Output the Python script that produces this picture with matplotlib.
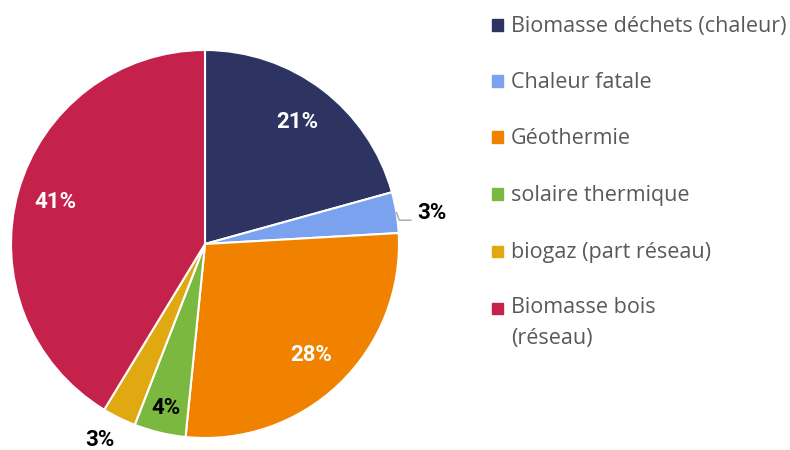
import numpy as np
import matplotlib.pyplot as plt
from matplotlib.patches import Rectangle

plt.rcParams["font.family"] = ["Open Sans", "DejaVu Sans"]

labels = [
    "Biomasse déchets (chaleur)",
    "Chaleur fatale",
    "Géothermie",
    "solaire thermique",
    "biogaz (part réseau)",
    "Biomasse bois\n(réseau)",
]
shares = [20.7, 3.4, 27.5, 4.3, 2.8, 41.3]
pct_text = ["21%", "3%", "28%", "4%", "3%", "41%"]
colors = ["#2e3461", "#7aa2ee", "#f08200", "#7bb83f", "#e0a811", "#c4214b"]

# label placement: radial distance, angular nudge (deg) and text colour per slice
label_r = [0.79, 1.18, 0.79, 0.87, 1.145, 0.80]
label_da = [0, -1.6, 0, 0, -2.0, 0]
label_c = ["white", "black", "white", "black", "black", "white"]

W, H = 790, 450
fig = plt.figure(figsize=(W / 100, H / 100), dpi=100)
cx, cy, R = 205, 244, 194
ax = fig.add_axes([(cx - R) / W, (H - cy - R) / H, 2 * R / W, 2 * R / H])

wedges, _ = ax.pie(
    shares,
    colors=colors,
    startangle=90,
    counterclock=False,
    radius=1,
    wedgeprops=dict(edgecolor="white", linewidth=1.5),
)
ax.set_xlim(-1, 1)
ax.set_ylim(-1, 1)
ax.set_aspect("equal")
ax.axis("off")

for w, txt, r, da, c in zip(wedges, pct_text, label_r, label_da, label_c):
    mid = np.deg2rad((w.theta1 + w.theta2) / 2 + da)
    ax.text(r * np.cos(mid), r * np.sin(mid), txt, ha="center", va="center",
            fontsize=16, fontweight="bold", color=c, clip_on=False,
            family=["Roboto", "DejaVu Sans"])

# leader line for the small "Chaleur fatale" slice
w = wedges[1]
mid = np.deg2rad((w.theta1 + w.theta2) / 2)
x0, y0 = np.cos(mid), np.sin(mid)
ax.plot([x0, x0 + 0.015, x0 + 0.075], [y0, y0 - 0.04, y0 - 0.04],
        color="#a6a6a6", lw=1, clip_on=False)

# legend
rows_y = [25, 81, 137, 194, 251, 308]
for lab, col, yy in zip(labels, colors, rows_y):
    fig.patches.append(Rectangle((492 / W, (H - yy - 5.5) / H), 11 / W, 11 / H,
                                 transform=fig.transFigure, color=col))
    multi = "\n" in lab
    fig.text(511 / W, (H - yy + 11) / H if multi else (H - yy - 1.5) / H, lab,
             ha="left", va="top" if multi else "center",
             fontsize=15.5, color="#595959", linespacing=1.65)

fig.savefig("out.png", dpi=100)
